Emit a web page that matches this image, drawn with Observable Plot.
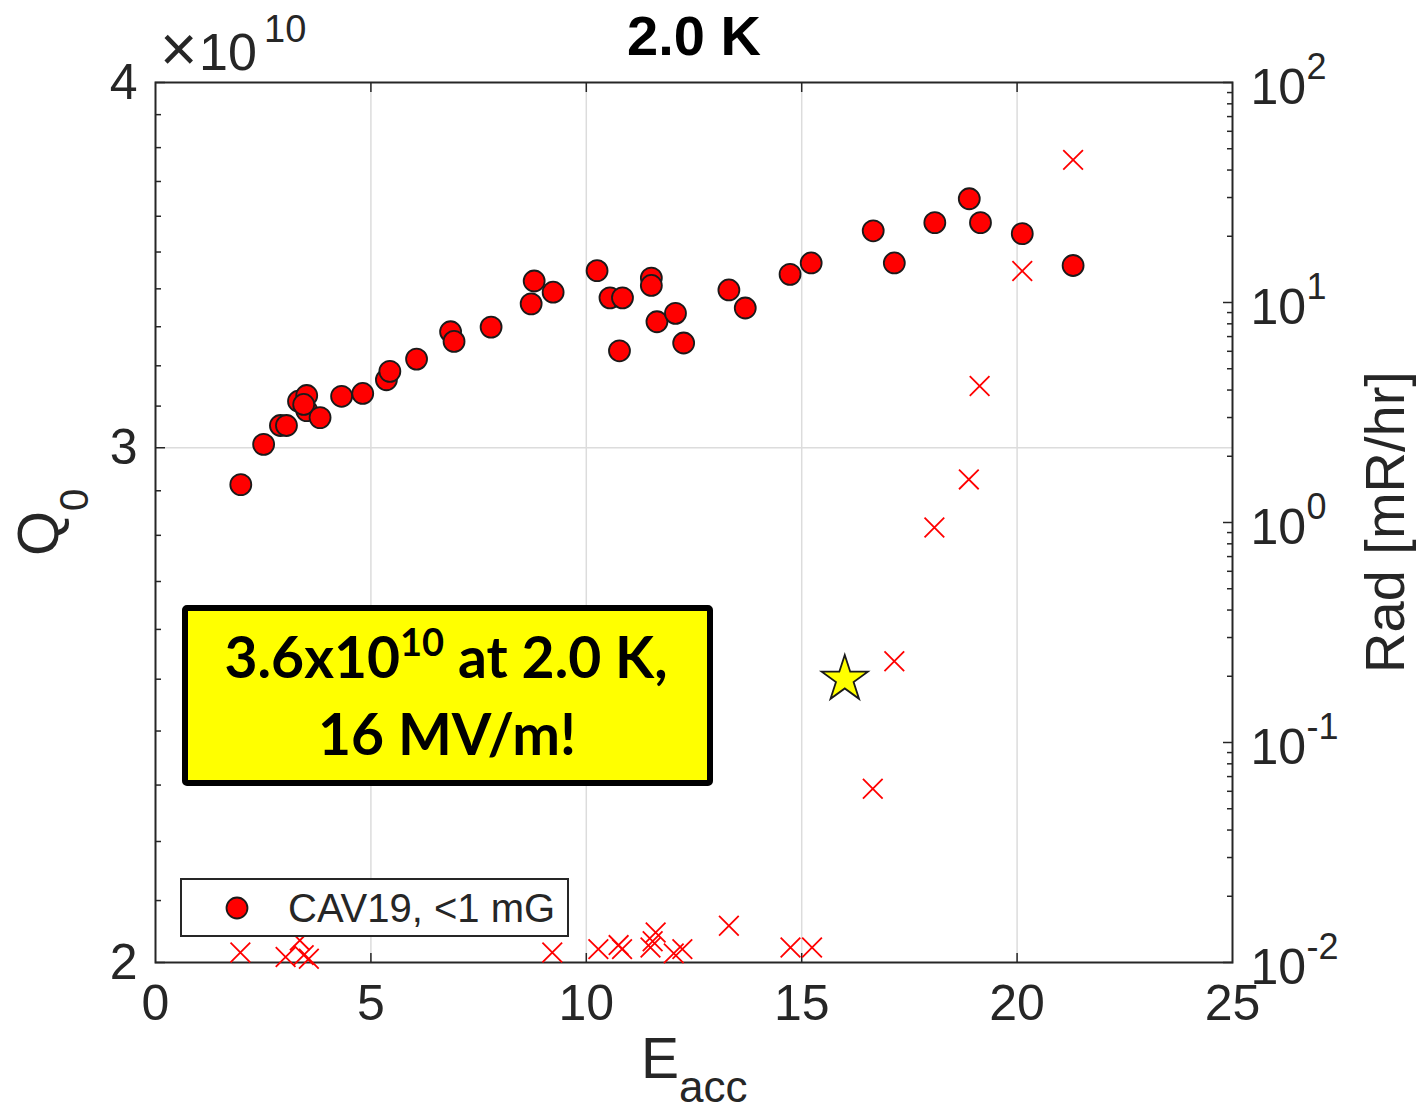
<!DOCTYPE html>
<html><head><meta charset="utf-8">
<script src="https://cdn.jsdelivr.net/npm/d3@7"></script>
<script src="https://cdn.jsdelivr.net/npm/@observablehq/plot@0.6"></script>
<style>
body{margin:0;background:#fff;}
#wrap{position:relative;width:1421px;height:1111px;}
</style></head><body>
<div id="wrap"></div>
<script>
// ---- data ----
const q0Eacc = [1.98,2.51,2.90,3.04,3.32,3.51,3.51,3.44,3.82,4.32,4.81,5.36,5.44,6.06,6.85,6.93,7.79,8.72,8.79,9.23,10.25,10.55,10.84,10.77,11.51,11.51,11.64,12.07,12.26,13.31,13.69,14.73,15.22,16.66,17.15,18.09,18.89,19.15,20.12,21.30];
const q0Vals = [2.914,3.008,3.053,3.053,3.112,3.126,3.089,3.104,3.072,3.124,3.131,3.165,3.186,3.217,3.287,3.262,3.299,3.360,3.421,3.391,3.449,3.376,3.376,3.238,3.429,3.409,3.313,3.335,3.258,3.397,3.349,3.439,3.470,3.559,3.470,3.582,3.650,3.582,3.551,3.463]; // x1e10
const radEacc = [21.30,20.12,19.13,18.88,18.08,17.15,16.65,1.97,3.02,3.35,3.44,3.56,9.21,10.28,10.75,10.83,11.49,11.54,11.61,12.03,12.23,13.31,14.74,15.24];
const radVals = [44.5,13.9,4.17,1.57,0.949,0.234,0.0616,0.0111,0.0106,0.0126,0.0108,0.0104,0.0111,0.0115,0.0120,0.0115,0.0117,0.0125,0.0137,0.0110,0.0115,0.0147,0.0117,0.0117]; // mR/hr
const starEacc = [16.0];
const starQ0 = [2.50];
const xTicks = [0,5,10,15,20,25];
const q0Ticks = [2,3,4];
const radExps = [-2,-1,0,1,2];
const titleText = "2.0 K";
const legendText = "CAV19, <1 mG";

// ---- mapping right axis (log10 rad, 1e-2..1e2) onto left axis (log Q0, 2..4) ----
const radToY = r => 2 * Math.pow(2, (Math.log10(r) + 2) / 4);
const circles = q0Eacc.map((x, i) => ({x, y: q0Vals[i]}));
const crosses = radEacc.map((x, i) => ({x, y: radToY(radVals[i])}));
const star = starEacc.map((x, i) => ({x, y: starQ0[i]}));
const q0Minor = d3.range(21, 40).map(v => v / 10).filter(v => v !== 3);
const radMinor = [];
for (let k = -2; k < 2; k++) for (let m = 2; m <= 9; m++) radMinor.push(m * Math.pow(10, k));

const ink = "#262626";
const font = "'Liberation Sans', Arial, Helvetica, sans-serif";
const noText = () => "";

const plot = Plot.plot({
  width: 1421, height: 1111,
  marginLeft: 155, marginRight: 189, marginTop: 82, marginBottom: 149,
  x: {domain: [0, 25]},
  y: {type: "log", domain: [2, 4]},
  style: {fontFamily: font, color: ink, background: "white", overflow: "visible"},
  marks: [
    Plot.gridX(xTicks.slice(1, -1), {stroke: "#dcdcdc", strokeOpacity: 1, strokeWidth: 1.5}),
    Plot.gridY([3], {stroke: "#dcdcdc", strokeOpacity: 1, strokeWidth: 1.5}),
    // x axis labels and inward ticks
    Plot.axisX(xTicks, {anchor: "bottom", tickSize: 0, tickPadding: 22, fontSize: 50, label: null, tickFormat: d => String(d)}),
    Plot.axisX(xTicks.slice(1, -1), {anchor: "bottom", tickSize: 9, dy: -9, label: null, tickFormat: noText, stroke: ink, strokeWidth: 1.5}),
    Plot.axisX(xTicks.slice(1, -1), {anchor: "top", tickSize: 9, dy: 9, label: null, tickFormat: noText, stroke: ink, strokeWidth: 1.5}),
    // left axis
    Plot.axisY(q0Ticks, {anchor: "left", tickSize: 0, tickPadding: 18, fontSize: 50, label: null, tickFormat: d => String(d)}),
    Plot.axisY(q0Ticks, {anchor: "left", tickSize: 10, dx: 10, label: null, tickFormat: noText, stroke: ink, strokeWidth: 1.5}),
    Plot.axisY(q0Minor, {anchor: "left", tickSize: 6, dx: 6, label: null, tickFormat: noText, stroke: ink, strokeWidth: 1.5}),
    // right axis ticks
    Plot.axisY(radExps.map(k => radToY(Math.pow(10, k))), {anchor: "right", tickSize: 10, dx: -10, label: null, tickFormat: noText, stroke: ink, strokeWidth: 1.5}),
    Plot.axisY(radMinor.map(radToY), {anchor: "right", tickSize: 6, dx: -6, label: null, tickFormat: noText, stroke: ink, strokeWidth: 1.5}),
    // right axis labels 10^k
    Plot.text(radExps, {y: k => radToY(Math.pow(10, k)), frameAnchor: "right", text: () => "10", textAnchor: "start", dx: 18, dy: 5, fontSize: 50, fill: ink}),
    Plot.text(radExps, {y: k => radToY(Math.pow(10, k)), frameAnchor: "right", text: k => String(k), textAnchor: "start", dx: 74, dy: -15, fontSize: 36, fill: ink}),
    Plot.frame({stroke: ink, strokeWidth: 2}),
    // data
    Plot.dot(circles, {x: "x", y: "y", r: 10.5, fill: "#ff0000", stroke: "#1a1a1a", strokeWidth: 1.8}),
    Plot.dot(crosses, {x: "x", y: "y", symbol: "times", r: 9, stroke: "#ff0000", strokeWidth: 1.8}),
    Plot.dot(star, {x: "x", y: "y", symbol: "star", r: 14.5, fill: "#ffff00", stroke: "#1a1a1a", strokeWidth: 1.8})
  ]
});
document.getElementById("wrap").appendChild(plot);

// ---- annotations (titles, legend, callout) ----
const svg = d3.select(plot);
const g = svg.append("g").attr("font-family", font).attr("fill", ink).attr("text-anchor", "start");

g.append("text").attr("x", 694).attr("y", 55).attr("text-anchor", "middle")
  .attr("font-size", 56).attr("font-weight", "bold").attr("fill", "#000").text(titleText);

// x10^10 multiplier
g.append("text").attr("x", 160).attr("y", 71).attr("font-size", 64).attr("font-weight", 300).text("\u00d7");
g.append("text").attr("x", 199).attr("y", 70).attr("font-size", 52).text("10");
g.append("text").attr("x", 264).attr("y", 42).attr("font-size", 38).text("10");

// Q0 label
const q = g.append("text").attr("transform", "translate(58,556) rotate(-90)").attr("font-size", 58);
q.append("tspan").text("Q");
q.append("tspan").attr("font-size", 40).attr("dy", 30).text("0");

// Eacc label
const e = g.append("text").attr("x", 641).attr("y", 1078).attr("font-size", 57);
e.append("tspan").text("E");
e.append("tspan").attr("font-size", 44).attr("dy", 24).text("acc");

// Rad label
g.append("text").attr("transform", "translate(1404,522) rotate(-90)").attr("text-anchor", "middle")
  .attr("font-size", 56).text("Rad [mR/hr]");

// legend
const lg = svg.append("g").attr("text-anchor", "start");
lg.append("rect").attr("x", 181).attr("y", 879).attr("width", 387).attr("height", 57)
  .attr("fill", "white").attr("stroke", ink).attr("stroke-width", 2);
lg.append("circle").attr("cx", 237).attr("cy", 908).attr("r", 10.5)
  .attr("fill", "#ff0000").attr("stroke", "#1a1a1a").attr("stroke-width", 1.8);
lg.append("text").attr("x", 288).attr("y", 922).attr("font-family", font).attr("font-size", 40)
  .attr("fill", ink).text(legendText);

// callout box
const cb = svg.append("g").attr("font-family", "Lato, 'Open Sans', sans-serif").attr("font-weight", "bold").attr("fill", "#000");
cb.append("rect").attr("x", 185).attr("y", 608).attr("width", 525).attr("height", 175)
  .attr("fill", "#ffff00").attr("stroke", "#000").attr("stroke-width", 6).attr("rx", 2);
const l1 = cb.append("text").attr("x", 446).attr("y", 678).attr("text-anchor", "middle").attr("font-size", 57);
l1.append("tspan").text("3.6x10");
l1.append("tspan").attr("font-size", 38).attr("dy", -22).text("10");
l1.append("tspan").attr("dy", 22).text(" at 2.0 K,");
cb.append("text").attr("x", 447).attr("y", 755).attr("text-anchor", "middle").attr("font-size", 57).text("16 MV/m!");
</script>
</body></html>
